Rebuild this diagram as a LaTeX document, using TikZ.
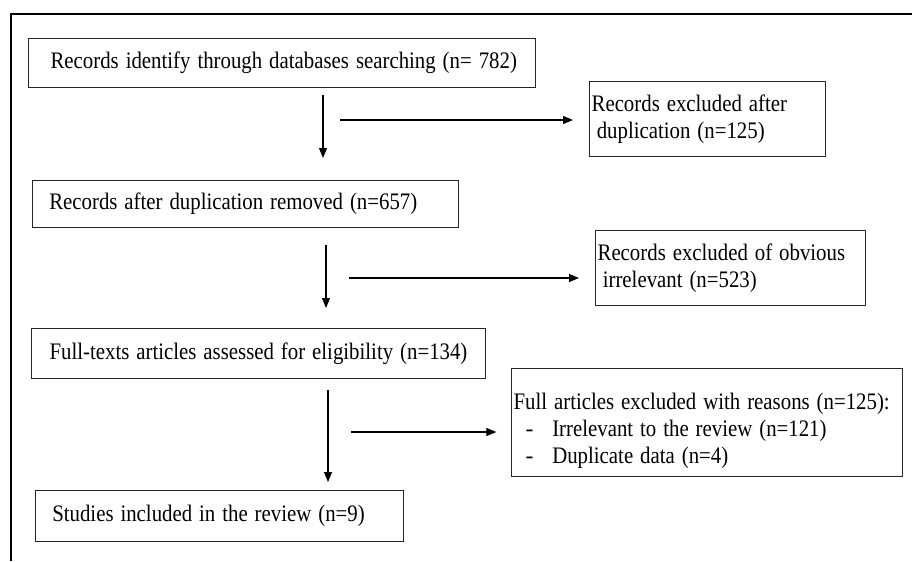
\documentclass[tikz,border=0pt]{standalone}
\usepackage{graphicx}
\usepackage{fontspec}
\setmainfont{Liberation Serif}
\usetikzlibrary{arrows.meta}
\newcommand{\sqz}[1]{\scalebox{0.88}[1]{#1}}
\begin{document}
\begin{tikzpicture}[x=0.75pt,y=-0.75pt,
  box/.style={draw=black!85, line width=0.9pt, anchor=north west, inner xsep=1.5pt, inner ysep=0pt,
    align=left, font=\fontsize{17.75}{20.5}\selectfont},
  arr/.style={draw=black, line width=0.8pt, -{Triangle[length=7.5pt,width=6pt]}},
  frame/.style={draw=black, line width=1.1pt}]
\useasboundingbox (0,0) rectangle (912,561);
% outer frame
\coordinate (fa) at (11,561);
\coordinate (fb) at (11,14);
\coordinate (fc) at (912,14);
\draw[frame] (fa) -- (fb) -- (fc);
% left column
\node[box, minimum width=380.25pt, minimum height=36.75pt, text width=377.25pt] (b1) at (28,38)
  {\hspace*{15pt}\sqz{Records identify through databases searching (n= 782)}};
\node[box, minimum width=319.5pt, minimum height=35.25pt, text width=316.5pt] (b2) at (32,180)
  {\hspace*{11pt}\sqz{Records after duplication removed (n=657)}};
\node[box, minimum width=340.5pt, minimum height=37.5pt, text width=337.5pt] (b3) at (31,328)
  {\hspace*{12pt}\sqz{Full-texts articles assessed for eligibility (n=134)}};
\node[box, minimum width=276pt, minimum height=38.25pt, text width=273pt] (b4) at (35,490)
  {\hspace*{11pt}\sqz{Studies included in the review (n=9)}};
% right column
\node[box, minimum width=177pt, minimum height=56.25pt, text width=174pt] (r1) at (589,81)
  {\sqz{Records excluded after}\\\sqz{\hspace*{0.25em}duplication (n=125)}};
\node[box, minimum width=202.5pt, minimum height=56.25pt, text width=199.5pt] (r2) at (595,230)
  {\sqz{Records excluded of obvious}\\\sqz{\hspace*{0.25em}irrelevant (n=523)}};
\node[box, minimum width=293.25pt, minimum height=81pt, text width=290.25pt] (r3) at (511,368)
  {\rule{0pt}{24.5pt}\sqz{Full articles excluded with reasons (n=125):}\\
   \makebox[29pt][l]{\hspace*{9pt}-}\sqz{Irrelevant to the review (n=121)}\\
   \makebox[29pt][l]{\hspace*{9pt}-}\sqz{Duplicate data (n=4)}};
% vertical arrows
\coordinate (v1s) at (323,95);
\coordinate (v2s) at (326,245);
\coordinate (v3s) at (328,390);
\draw[arr, shorten >=16.5pt] (v1s) -- (v1s |- b2.north);
\draw[arr, shorten >=15pt] (v2s) -- (v2s |- b3.north);
\draw[arr, shorten >=6pt] (v3s) -- (v3s |- b4.north);
% horizontal arrows
\coordinate (h1s) at (340,120);
\coordinate (h2s) at (349,278);
\coordinate (h3s) at (351,432);
\draw[arr, shorten >=12pt] (h1s) -- (h1s -| r1.west);
\draw[arr, shorten >=12pt] (h2s) -- (h2s -| r2.west);
\draw[arr, shorten >=11pt] (h3s) -- (h3s -| r3.west);
\end{tikzpicture}
\end{document}
